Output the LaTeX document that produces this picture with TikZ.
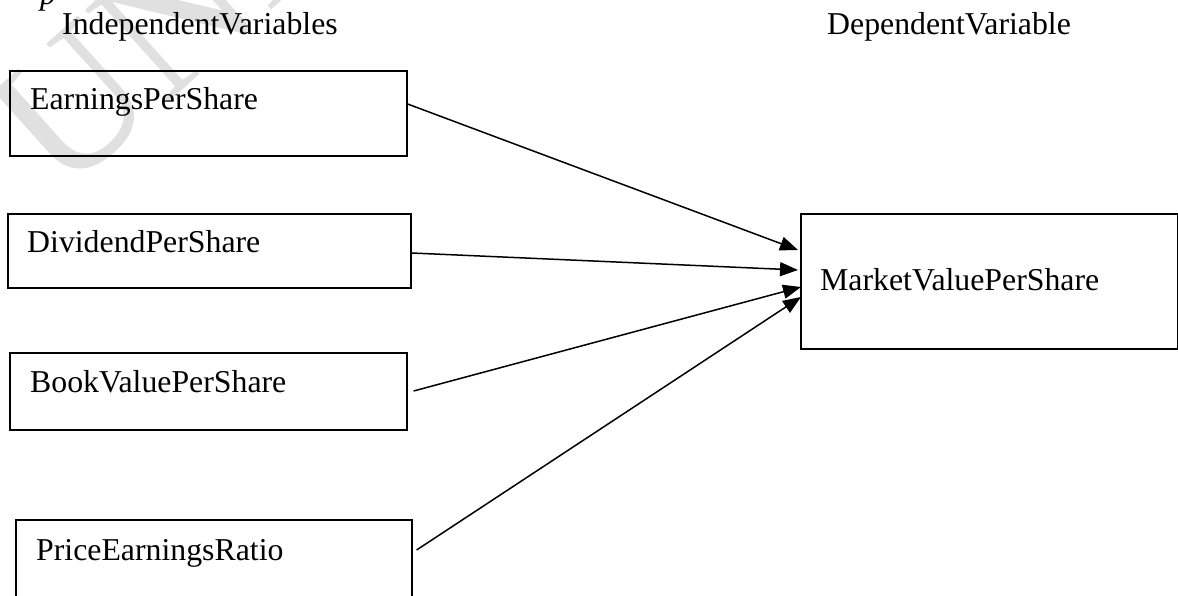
\documentclass[tikz,border=0pt]{standalone}
\usepackage{fontspec}
\setmainfont{Liberation Serif}
\usetikzlibrary{arrows.meta}
\tikzset{
  box/.style={draw=black, line width=1.6pt, rectangle, anchor=north west, inner sep=0pt},
  lbl/.style={anchor=base west, inner sep=0pt, font=\fontsize{31.8}{38}\selectfont},
  conn/.style={line width=1.5pt, -{Triangle[length=18pt,width=14pt]}},
  wmark/.style={anchor=base west, inner sep=0pt, text=black!12, font=\fontsize{190}{190}\selectfont}
}
\begin{document}
\begin{tikzpicture}[x=1pt,y=-1pt]
\useasboundingbox (0,0) rectangle (1178,596);
% watermark
\node[wmark, rotate=42] (wm) at (62,198) {UNI};
% cut italic letter at the top
\node[lbl, font=\fontsize{31.8}{38}\selectfont\itshape] (pc) at (40,5) {p};
% headers
\node[lbl] (hind) at (62,35) {IndependentVariables};
\node[lbl] (hdep) at (827,35) {DependentVariable};
% boxes
\node[box, minimum width=397pt, minimum height=85pt] (eps) at (9,70) {};
\node[box, minimum width=403pt, minimum height=74pt] (dps) at (7,213) {};
\node[box, minimum width=397pt, minimum height=77pt] (bvps) at (9,352) {};
\node[box, minimum width=396pt, minimum height=121pt] (per) at (15,519) {};
\node[box, minimum width=377pt, minimum height=135pt] (mvps) at (800,213) {};
% texts
\node[lbl] (teps) at (30,110) {EarningsPerShare};
\node[lbl] (tdps) at (27,253) {DividendPerShare};
\node[lbl] (tbvps) at (30,392) {BookValuePerShare};
\node[lbl] (tper) at (36,560) {PriceEarningsRatio};
\node[lbl] (tmvps) at (820,290) {MarketValuePerShare};
% connector ends
\coordinate (s1) at (eps.north east |- 0,104);
\coordinate (s2) at (dps.north east |- 0,253);
\coordinate (s3) at ([xshift=6pt]bvps.north east |- 0,391);
\coordinate (s4) at ([xshift=4pt]per.north east |- 0,550);
\coordinate (e1) at ([xshift=-2pt]mvps.north west |- 0,250);
\coordinate (e2) at ([xshift=-2pt]mvps.north west |- 0,270);
\coordinate (e3) at ([xshift=1pt]mvps.north west |- 0,287);
\coordinate (e4) at ([xshift=1pt]mvps.north west |- 0,297);
\draw[conn] (s1) -- (e1);
\draw[conn] (s2) -- (e2);
\draw[conn] (s3) -- (e3);
\draw[conn] (s4) -- (e4);
\end{tikzpicture}
\end{document}
